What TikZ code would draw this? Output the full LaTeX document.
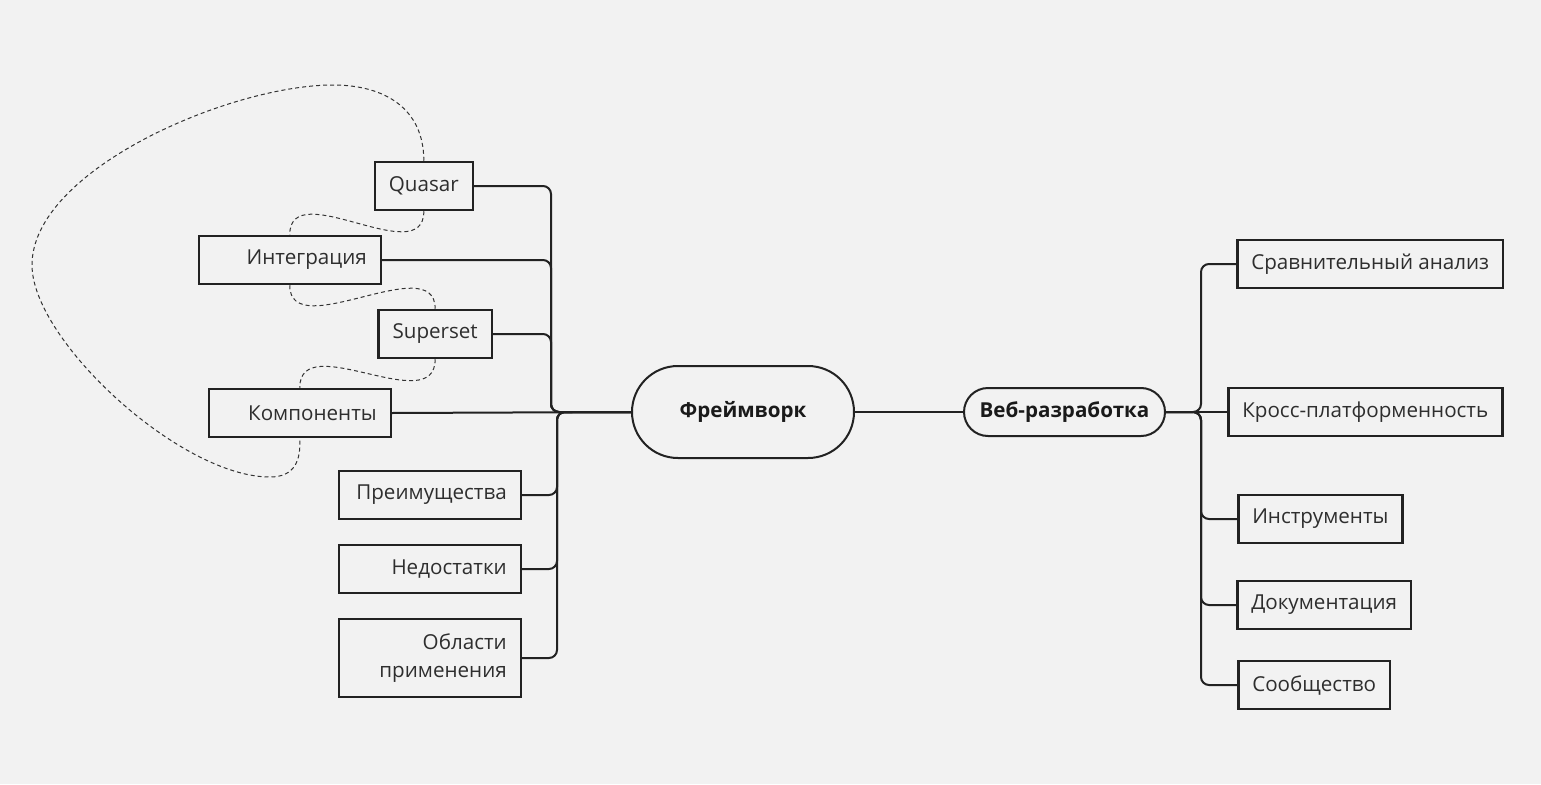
\documentclass[tikz,border=0pt]{standalone}
\usepackage{fontspec}
\setmainfont{Open Sans}
\definecolor{bg}{HTML}{F2F2F2}
\definecolor{lc}{HTML}{222222}
\definecolor{tc}{HTML}{2E2E2E}
\definecolor{bc}{HTML}{1A1A1A}
\definecolor{dc}{HTML}{333333}
\begin{document}
\begin{tikzpicture}[x=1pt,y=-1pt,
  box/.style={draw=lc, line width=2.5pt, minimum height=48pt, inner xsep=14pt, inner ysep=0pt,
    font=\fontsize{20.6pt}{28pt}\selectfont, text=tc},
  lbox/.style={box, text width=154pt, align=right},
  fwbox/.style={draw=lc, line width=2pt, rounded corners=46pt, minimum width=222pt, minimum height=92pt,
    font=\fontsize{20.6pt}{28pt}\selectfont\bfseries, text=bc},
  webbox/.style={draw=lc, line width=2pt, rounded corners=24pt, minimum width=201pt, minimum height=48pt,
    inner xsep=10pt, font=\fontsize{20.6pt}{28pt}\selectfont\bfseries, text=bc},
  conn/.style={draw=lc, line width=2pt, rounded corners=8pt},
  tie/.style={draw=dc, line width=1pt, dash pattern=on 4pt off 3pt}
]
\fill[bg] (0,0) rectangle (1541,784);
\useasboundingbox (0,0) rectangle (1541,784);

% central
\node[fwbox] (fw) at (743,412) {Фреймворк};
\node[webbox] (web) at (1064.5,412) {Веб-разработка};

% left children
\node[box, anchor=east] (q) at (474,186) {Quasar};
\node[lbox, anchor=east] (int) at (382,260) {Интеграция};
\node[box, anchor=east] (sup) at (493,334) {Superset};
\node[lbox, anchor=east] (cmp) at (392,413) {Компоненты};
\node[lbox, anchor=east] (adv) at (522,495) {Преимущества};
\node[lbox, anchor=east] (dis) at (522,569) {Недостатки};
\node[lbox, anchor=east, minimum height=78pt] (app) at (522,658) {Области\\применения};

% right children
\node[box, anchor=west] (cmpA) at (1236,264) {Сравнительный анализ};
\node[box, anchor=west] (cross) at (1227,412) {Кросс-платформенность};
\node[box, anchor=west] (tools) at (1237,519) {Инструменты};
\node[box, anchor=west] (docs) at (1236,605) {Документация};
\node[box, anchor=west] (comm) at (1237,685) {Сообщество};

% trunks
\coordinate (lt) at (551,412);
\coordinate (lb) at (557,412);
\coordinate (rt) at (1201,412);

\draw[conn] (fw.west) -- (lt) |- (q.east);
\draw[conn] (fw.west) -- (lt) |- (int.east);
\draw[conn] (fw.west) -- (lt) |- (sup.east);
\draw[conn] (fw.west) -- (cmp.east);
\draw[conn] (fw.west) -- (lb) |- (adv.east);
\draw[conn] (fw.west) -- (lb) |- (dis.east);
\draw[conn] (fw.west) -- (lb) |- (app.east);

\draw[conn] (fw.east) -- (web.west);

\draw[conn] (web.east) -- (rt) |- (cmpA.west);
\draw[conn] (web.east) -- (cross.west);
\draw[conn] (web.east) -- (rt) |- (tools.west);
\draw[conn] (web.east) -- (rt) |- (docs.west);
\draw[conn] (web.east) -- (rt) |- (comm.west);

% dashed ties
\coordinate (lpA) at (333,85);
\coordinate (lpB) at (32,265);
\coordinate (lpC) at (270,477);
\draw[tie] (q.north) .. controls +(0,-52) and (385,85) .. (lpA)
  .. controls (230,85) and (32,170) .. (lpB)
  .. controls (32,340) and (180,477) .. (lpC)
  .. controls (295,477) and (301,460) .. (cmp.south);
\draw[tie] (q.south) .. controls +(0,60) and +(0,-60) .. (int.north);
\draw[tie] (int.south) .. controls +(0,60) and +(0,-60) .. (sup.north);
\draw[tie] (sup.south) .. controls +(0,60) and +(0,-60) .. (cmp.north);
\end{tikzpicture}
\end{document}
